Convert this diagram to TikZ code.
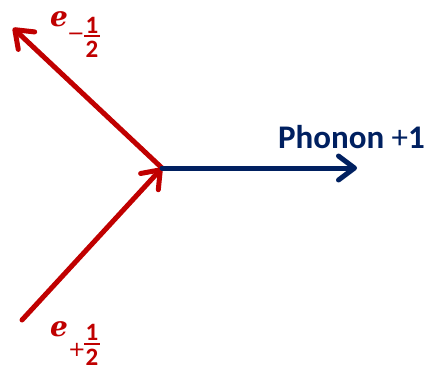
\documentclass[tikz,border=0pt]{standalone}
\usepackage{fontspec}
\setmainfont{Carlito}
\newfontfamily\efont{DejaVu Serif}
\newfontfamily\sgnfont{DejaVu Sans}
\usetikzlibrary{arrows.meta}
\definecolor{dred}{HTML}{C00000}
\definecolor{navy}{HTML}{002060}
\begin{document}
\begin{tikzpicture}[x=1pt,y=-1pt,
  leg/.style={line width=5pt,line cap=round,
    -{Straight Barb[length=16pt,width=24pt,line cap=round,line join=round]}},
  lab/.style={inner sep=0pt,outer sep=0pt},
  ee/.style={lab,font=\fontsize{28}{32}\efont\bfseries\itshape,text=dred},
  sub/.style={lab,font=\fontsize{25}{28}\selectfont\bfseries,text=dred},
  sgn/.style={lab,font=\fontsize{21}{24}\sgnfont,text=dred}]
\useasboundingbox (0,0) rectangle (431,370);
\coordinate (v) at (162,168);
\coordinate (tl) at (13,28);
\coordinate (bl) at (22,320);
\coordinate (pr) at (357,168);
\draw[leg,dred] (v) -- (tl);
\draw[leg,dred] (bl) -- (v);
\draw[leg,navy] (v) -- (pr);
% phonon label
\node[lab,anchor=base west,text=navy,font=\fontsize{33}{38}\selectfont] (ph) at (278,148) {\textbf{Phonon} +\textbf{1}};
% e_{-1/2}
\node[ee,anchor=base west] (e1) at (50,26) {e};
\node[sgn,anchor=center] (m1) at (76,37) {−};
\node[sub,anchor=base] (n1) at (92,33) {1};
\node[sub,anchor=base] (d1) at (92,57) {2};
\draw[dred,line width=2.5pt] (84,36) -- (100,36);
% e_{+1/2}
\node[ee,anchor=base west] (e2) at (50,336) {e};
\node[sgn,anchor=center] (m2) at (77,350) {+};
\node[sub,anchor=base] (n2) at (92,340) {1};
\node[sub,anchor=base] (d2) at (92,365) {2};
\draw[dred,line width=2.5pt] (84,344) -- (100,344);
\end{tikzpicture}
\end{document}
